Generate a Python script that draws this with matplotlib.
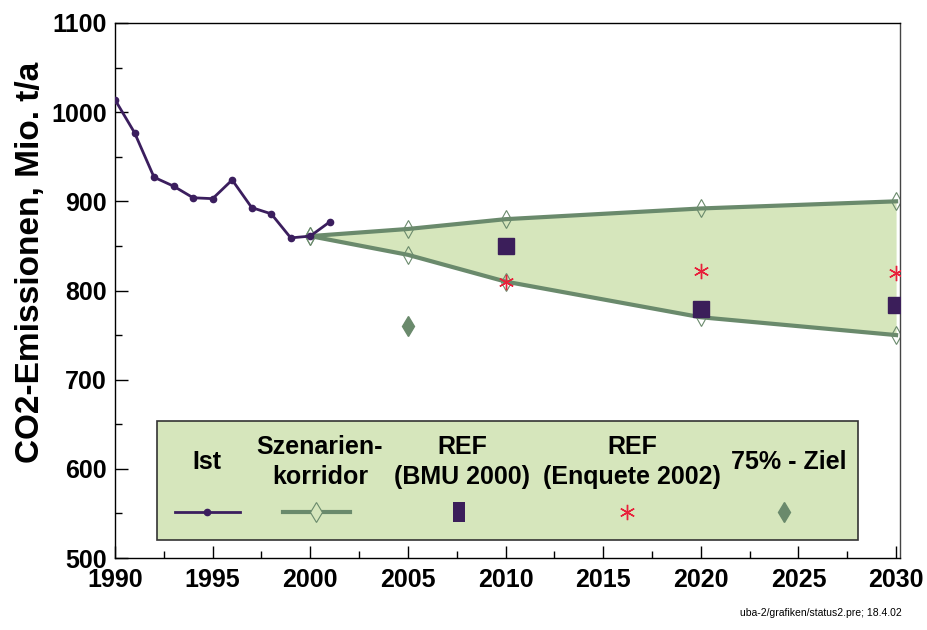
import matplotlib
matplotlib.use("Agg")
import matplotlib.pyplot as plt
from matplotlib.patches import Rectangle
from matplotlib.ticker import MultipleLocator
from matplotlib.lines import Line2D

# ---- data ----
ist_years = [1990, 1991, 1992, 1993, 1994, 1995, 1996, 1997, 1998, 1999, 2000, 2001]
ist_values = [1014, 977, 927, 917, 904, 903, 924, 893, 886, 859, 861, 877]

corr_years = [2000, 2005, 2010, 2020, 2030]
corr_upper = [861, 869, 880, 892, 900]
corr_lower = [861, 840, 810, 770, 750]

bmu_years = [2010, 2020, 2030]
bmu_values = [850, 779, 784]

enq_years = [2010, 2020, 2030]
enq_values = [810, 822, 820]

ziel_years = [2005]
ziel_values = [760]

legend_labels = ["Ist", "Szenarien-\nkorridor", "REF\n(BMU 2000)", "REF\n(Enquete 2002)", "75% - Ziel"]

# ---- style ----
C_IST = "#3b1e5e"
C_CORR = "#6a8a6c"
C_FILL = "#d6e6bc"
C_BMU = "#3b1e5a"
C_ENQ = "#e8203a"
C_ZIEL = "#6a8a6c"

plt.rcParams['font.family'] = ['Liberation Sans', 'DejaVu Sans']

fig = plt.figure(figsize=(9.28, 6.30), dpi=100)
ax = fig.add_axes([115/928, 1-558/630, (900-115)/928, (558-23)/630])

# corridor
ax.fill_between(corr_years, corr_lower, corr_upper, color=C_FILL, lw=0, zorder=1)
ax.plot(corr_years, corr_upper, color=C_CORR, lw=3, zorder=2,
        marker='d', ms=9, mfc='none', mec=C_CORR, mew=0.8)
ax.plot(corr_years, corr_lower, color=C_CORR, lw=3, zorder=2,
        marker='d', ms=9, mfc='none', mec=C_CORR, mew=0.8)

# Ist
ax.plot(ist_years, ist_values, color=C_IST, lw=2, marker='o', ms=4.5, zorder=4)

# scenario markers
ax.plot(bmu_years, bmu_values, ls='none', marker='s', ms=11, color=C_BMU, zorder=5)
ax.plot(enq_years, enq_values, ls='none', marker=(6, 2, 0), ms=11, mew=1.0,
        color=C_ENQ, zorder=6)
ax.plot(ziel_years, ziel_values, ls='none', marker='d', ms=10.5, color=C_ZIEL, zorder=5)

ax.set_xlim(1990, 2030.2)
ax.set_ylim(500, 1100)
ax.xaxis.set_major_locator(MultipleLocator(5))
ax.xaxis.set_minor_locator(MultipleLocator(2.5))
ax.yaxis.set_major_locator(MultipleLocator(100))
ax.yaxis.set_minor_locator(MultipleLocator(50))
ax.tick_params(which='both', direction='in', top=False, right=False)
ax.tick_params(which='major', length=9, width=1)
ax.tick_params(which='minor', length=5, width=1)
ax.tick_params(axis='x', pad=7)
ax.tick_params(axis='y', pad=6)
for lab in ax.get_xticklabels() + ax.get_yticklabels():
    lab.set_fontsize(18)
    lab.set_fontweight('bold')
for s in ax.spines.values():
    s.set_linewidth(1.0)
    s.set_color('black')
ax.spines['right'].set_color('#444444')

ax.set_ylabel("CO2-Emissionen, Mio. t/a", fontsize=24, fontweight='bold')
ax.yaxis.set_label_coords(-0.088, 0.553)

# ---- custom legend box ----
def fx(px):
    return (px - 115) / 785.0

def fy(py):
    return (558 - py) / 535.0

T = ax.transAxes
box = Rectangle((fx(157), fy(540)), fx(858) - fx(157), fy(421) - fy(540),
                transform=T, facecolor=C_FILL, edgecolor='#333333', lw=1.2, zorder=10)
ax.add_patch(box)

text_x = [207, 320, 462, 632, 789]
for lbl, px in zip(legend_labels, text_x):
    ax.text(fx(px), fy(462), lbl, transform=T, ha='center', va='center',
            fontsize=18, fontweight='bold', linespacing=1.3, zorder=11)

ly = fy(512)
rect_marker = [(-0.33, -0.5), (0.33, -0.5), (0.33, 0.5), (-0.33, 0.5), (-0.33, -0.5)]
ax.add_line(Line2D([fx(175), fx(240)], [ly, ly], transform=T, color=C_IST, lw=2, zorder=11))
ax.add_line(Line2D([fx(207)], [ly], transform=T, color=C_IST, marker='o', ms=4.5, zorder=12))
ax.add_line(Line2D([fx(283), fx(350)], [ly, ly], transform=T, color=C_CORR, lw=3, zorder=11))
ax.add_line(Line2D([fx(316)], [ly], transform=T, marker='d', ms=10, mfc=C_FILL,
                   mec=C_CORR, mew=0.8, zorder=12))
ax.add_line(Line2D([fx(459)], [ly], transform=T, marker=rect_marker, ms=14, color=C_BMU,
                   mew=0, zorder=12))
ax.add_line(Line2D([fx(627)], [ly], transform=T, marker=(6, 2, 0), ms=11, mew=1.0,
                   color=C_ENQ, zorder=12))
ax.add_line(Line2D([fx(784)], [ly], transform=T, marker='d', ms=10, color=C_ZIEL, zorder=12))

fig.text(902/928, 1 - 613/630, "uba-2/grafiken/status2.pre; 18.4.02", ha='right', va='center',
         fontsize=7.5)

fig.savefig("out.png", dpi=100)
